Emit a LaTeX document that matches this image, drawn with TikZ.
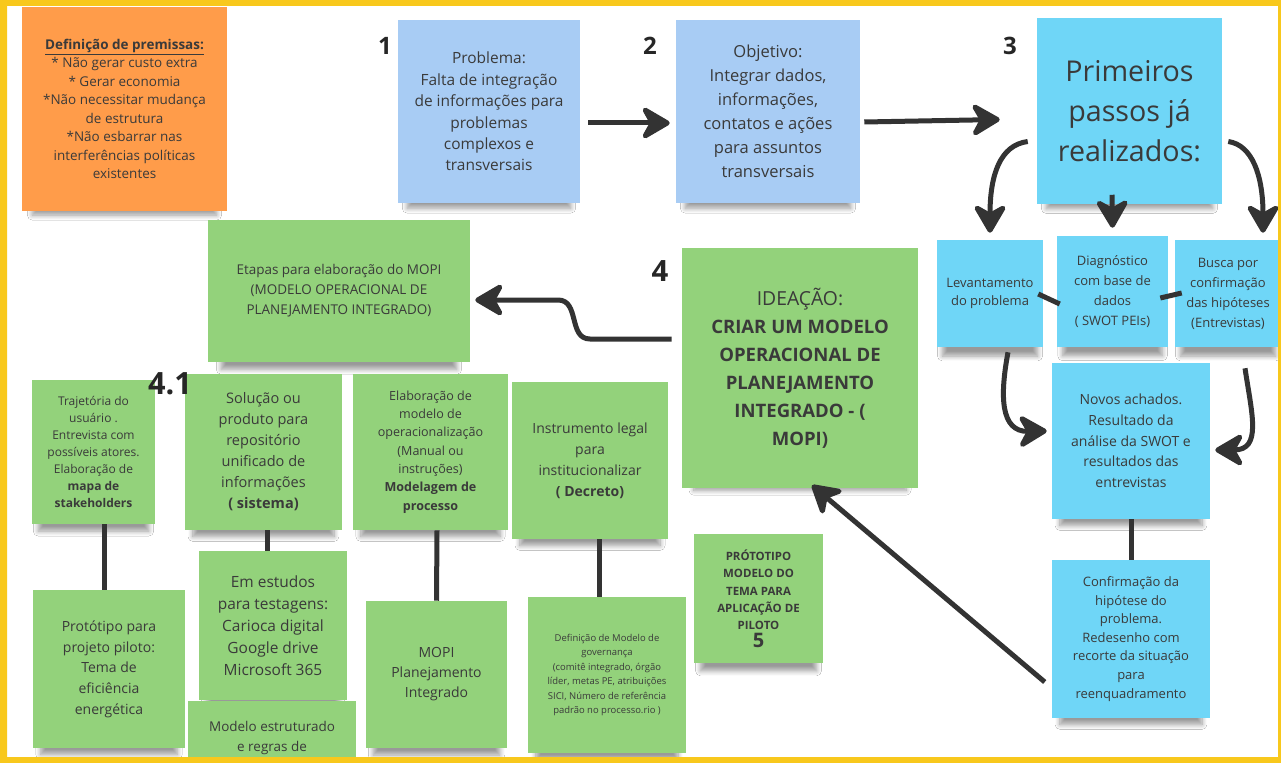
\documentclass[tikz,border=0pt]{standalone}
\usepackage{fontspec}
\setmainfont{Open Sans}
\usetikzlibrary{arrows.meta,shadows,shadows.blur}
\definecolor{framec}{HTML}{F8C81C}
\definecolor{orangen}{HTML}{FF9C4A}
\definecolor{bluen}{HTML}{A8CCF4}
\definecolor{cyann}{HTML}{6FD6F7}
\definecolor{greenn}{HTML}{93D27B}
\definecolor{ink}{HTML}{333333}
\definecolor{textc}{HTML}{3A3A3A}
\begin{document}
\begin{tikzpicture}[x=0.75pt,y=-0.75pt,
 note/.style n args={3}{fill=#1, minimum width=#2*0.75pt, minimum height=#3*0.75pt, inner sep=0pt, align=center, text=textc, blur shadow={shadow xshift=0pt, shadow yshift=-12pt, shadow scale=0.9, shadow blur radius=4pt, shadow blur steps=10, shadow opacity=40}},
 fs/.style 2 args={font=\fontsize{#1}{#2}\selectfont},
 arr/.style={draw=ink, line width=3.75pt, -{Stealth[length=25pt,width=29pt,inset=8pt,round]}},
 link/.style={draw=ink, line width=3.75pt},
 num/.style={text=black!85, font=\bfseries\fontsize{#1}{#1}\selectfont, inner sep=0pt}
]
\useasboundingbox (0,0) rectangle (1281,763);
\fill[framec] (0,0) rectangle (1281,763);
\fill[white] (7,6) rectangle (1278,757);

% top row
\node[note={orangen}{205}{204}, fs={10.1}{13.9}] (prem) at (124.5,109)
 {\underline{\textbf{Definição de premissas:}}\\ * Não gerar custo extra\\ * Gerar economia\\ *Não necessitar mudança\\ de  estrutura\\ *Não esbarrar nas\\ interferências políticas\\ existentes};
\node[note={bluen}{182}{183}, fs={11.6}{16.1}] (p1) at (489,111.5)
 {Problema:\\ Falta de integração\\ de informações para\\ problemas\\ complexos e\\ transversais};
\node[note={bluen}{184}{183}, fs={12.4}{18}] (p2) at (768,111.5)
 {Objetivo:\\ Integrar dados,\\ informações,\\ contatos e ações\\ para  assuntos\\ transversais};
\node[note={cyann}{185}{185}, fs={21.5}{30}] (p3) at (1129.5,111)
 {Primeiros\\ passos já\\ realizados:};
\node[num=18] (n1) at (385,46) {1};
\node[num=18] (n2) at (650,46) {2};
\node[num=18] (n3) at (1010,46) {3};

% step 3 children
\node[note={cyann}{106}{107}, fs={9.75}{13.5}] (lev) at (990,293.5) {Levantamento\\ do problema};
\node[note={cyann}{111}{111}, fs={9.75}{15}] (diag) at (1112.5,291.5) {Diagnóstico\\ com base de\\ dados\\ ( SWOT PEIs)};
\node[note={cyann}{106}{107}, fs={9.75}{15}] (busca) at (1228,293.5) {Busca por\\ confirmação\\ das hipóteses\\ (Entrevistas)};
\node[note={cyann}{158}{156}, fs={10.5}{15.5}] (novos) at (1131,441) {Novos achados.\\ Resultado da\\ análise da SWOT e\\ resultados das\\ entrevistas};
\node[note={cyann}{158}{158}, fs={9.75}{13.9}] (conf) at (1131,639) {Confirmação da\\ hipótese do\\ problema.\\ Redesenho com\\ recorte da situação\\ para\\ reenquadramento};

% ideation
\node[note={greenn}{236}{240}, fs={13.9}{21}] (idea) at (800,368)
 {{\fontsize{14.5}{21}\selectfont IDEAÇÃO:}\\ \textbf{CRIAR UM MODELO}\\ \textbf{OPERACIONAL DE}\\ \textbf{PLANEJAMENTO}\\ \textbf{INTEGRADO - (}\\ \textbf{MOPI)}};
\node[num=22] (n4) at (660,271) {4};
\node[note={greenn}{262}{142}, fs={10.1}{15}] (etapas) at (339,291)
 {Etapas para elaboração do MOPI\\ (MODELO OPERACIONAL DE\\ PLANEJAMENTO INTEGRADO)};

% 4.1 row
\node[note={greenn}{123}{144}, fs={9}{12.75}] (traj) at (93.5,452)
 {Trajetória do\\ usuário .\\ Entrevista com\\ possíveis atores.\\ Elaboração de\\ \textbf{mapa de}\\ \textbf{stakeholders}};
\node[note={greenn}{157}{156}, fs={10.9}{15.75}] (sol) at (263.5,452)
 {Solução ou\\ produto para\\ repositório\\ unificado de\\ informações\\ \textbf{( sistema)}};
\node[num=23] (n41) at (170,384) {4.1};
\node[note={greenn}{155}{156}, fs={9.4}{13.7}] (elab) at (430.5,452)
 {Elaboração de\\ modelo de\\ operacionalização\\ (Manual ou\\ instruções)\\ \textbf{Modelagem  de}\\ \textbf{processo}};
\node[note={greenn}{156}{157}, fs={10.5}{15.75}] (instr) at (590,460.5)
 {Instrumento legal\\ para\\ institucionalizar\\ \textbf{( Decreto)}};

% bottom row
\node[note={greenn}{152}{158}, fs={10.5}{15.5}] (prot) at (109,669)
 {Protótipo para\\ projeto piloto:\\ Tema de\\ eficiência\\ energética};
\node[note={greenn}{148}{149}, fs={11.6}{16.5}] (estud) at (273,625.5)
 {Em estudos\\ para testagens:\\ Carioca digital\\ Google drive\\ Microsoft 365};
\node[note={greenn}{168}{94}, fs={10.1}{15}] (modest) at (272,748)
 {Modelo estruturado\\ e regras de\\ utilização de};
\node[note={greenn}{141}{147}, fs={10.5}{15}] (mopi) at (436.5,674.5)
 {MOPI\\ Planejamento\\ Integrado};
\node[note={greenn}{158}{156}, fs={7.1}{10.8}] (defin) at (607,675)
 {Definição de Modelo de\\ governança\\ (comitê integrado, órgão\\ líder, metas PE, atribuições\\ SICI, Número de referência\\ padrão no processo.rio )};
\node[note={greenn}{129}{129}, fs={8.6}{13}] (p5) at (758.5,598.5)
 {\textbf{PRÓTOTIPO}\\ \textbf{MODELO DO}\\ \textbf{TEMA PARA}\\ \textbf{APLICAÇÃO DE}\\ \textbf{PILOTO}\\ {\bfseries\fontsize{15}{15}\selectfont 5}};

% connectors
\draw[arr] ([shift={(8,11.5)}]p1.east) -- ([shift={(-6,11.5)}]p2.west);
\draw[arr] ([shift={(4,10.5)}]p2.east) -- ([shift={(-37,8.5)}]p3.west);
\draw[arr] ([shift={(-9,30.5)}]p3.west) .. controls (1000,145) and (990,175) .. ([shift={(0,-7)}]lev.north);
\draw[arr] ([shift={(-17.5,-9)}]p3.south) -- ([shift={(0,-8)}]diag.north);
\draw[arr] ([shift={(6,30.5)}]p3.east) .. controls (1252,145) and (1263,175) .. ([shift={(35,-7)}]busca.north);
\draw[link] ([shift={(-5,0.5)}]lev.east) -- ([shift={(3,12.5)}]diag.west);
\draw[link] ([shift={(-8,6.5)}]diag.east) -- ([shift={(7,-0.5)}]busca.west);
\draw[arr] ([shift={(18,5)}]lev.south) .. controls (1000,395) and (1000,432) .. ([shift={(-5,-10)}]novos.west);
\draw[arr] ([shift={(17,21)}]busca.south) .. controls (1252,415) and (1262,450) .. ([shift={(5,9)}]novos.east);
\draw[link] (novos.south) -- (conf.north);
\draw[arr] ([shift={(-7,43)}]conf.west) -- ([shift={(12,-3)}]idea.south);
\draw[arr] ([shift={(-10,-29)}]idea.west) -- (590,339) .. controls (568,339) and (580,300) .. (558,300) -- ([shift={(5,9)}]etapas.east);
\draw[link] ([xshift=10.5*0.75pt]traj.south) -- ([xshift=-5*0.75pt]prot.north);
\draw[link] ([xshift=3.5*0.75pt]sol.south) -- ([xshift=-6*0.75pt]estud.north);
\draw[link] ([xshift=6.5*0.75pt]elab.south) -- (mopi.north);
\draw[link] ([xshift=9*0.75pt]instr.south) -- ([xshift=-8*0.75pt]defin.north);

\fill[framec, even odd rule] (0,0) rectangle (1281,763) (7,6) rectangle (1278,757);
\end{tikzpicture}
\end{document}
